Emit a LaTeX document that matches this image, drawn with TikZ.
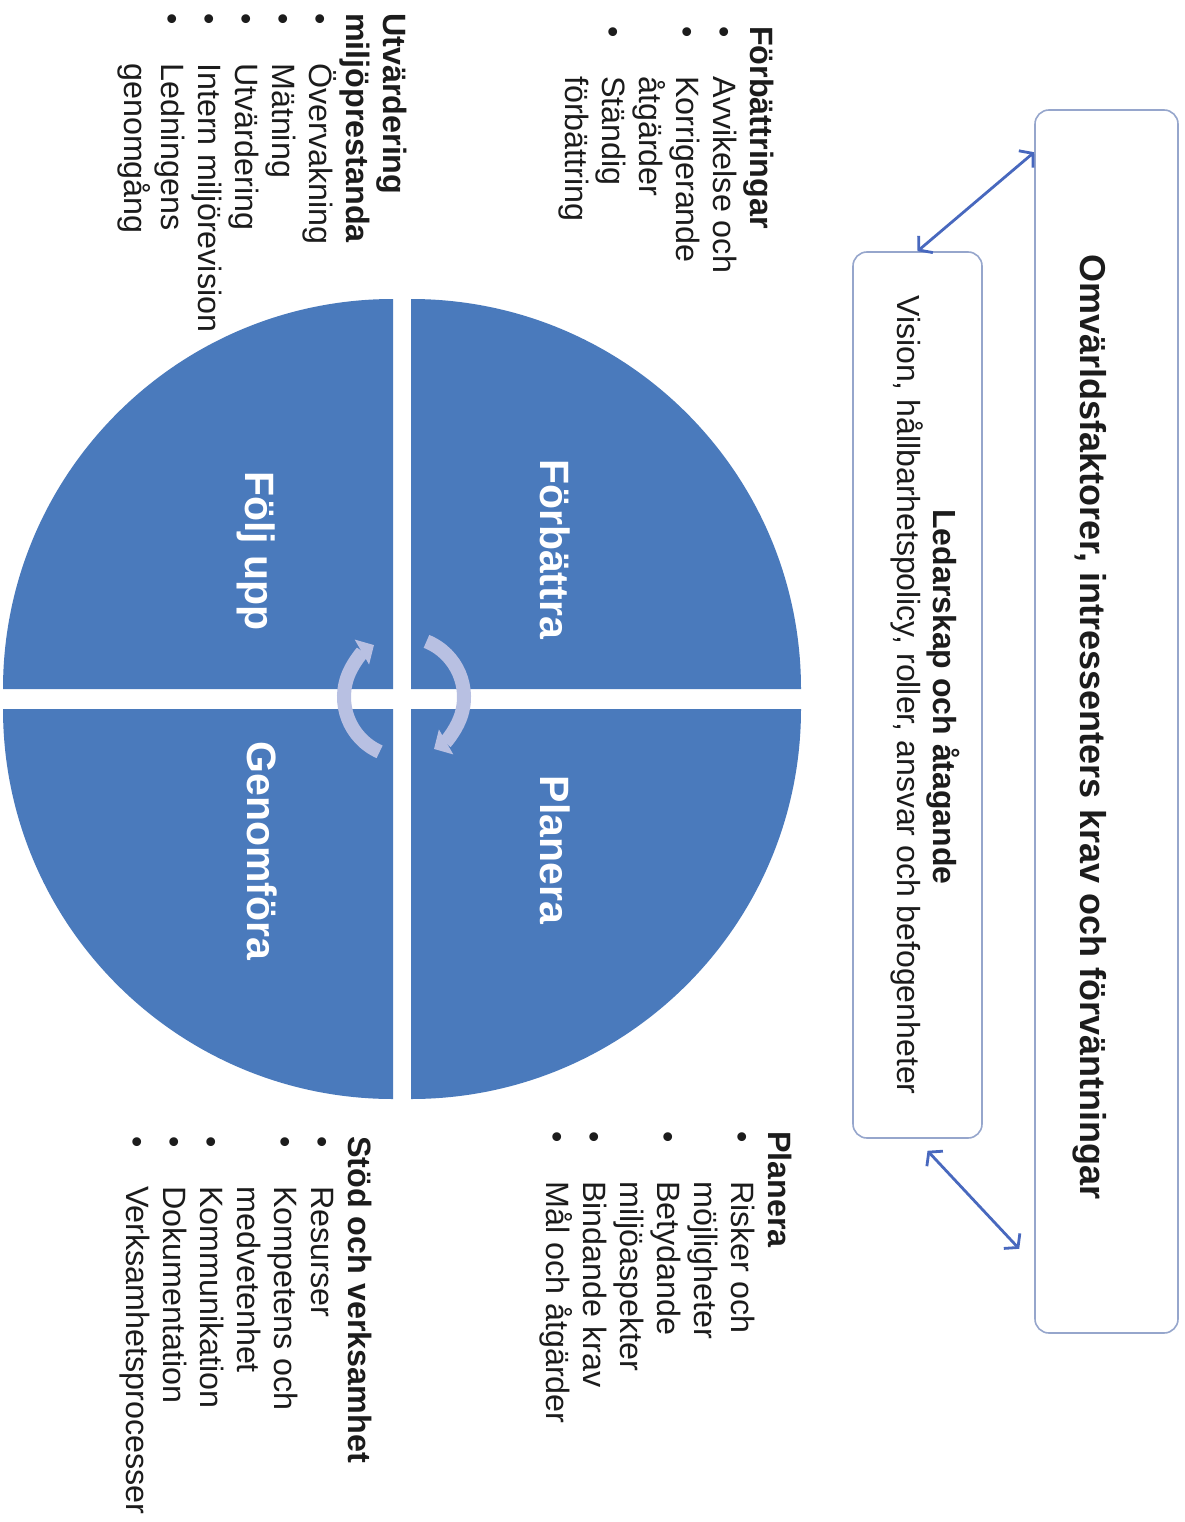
\documentclass[tikz,border=0pt]{standalone}
\usepackage{fontspec}
\setmainfont{Liberation Sans}
\usetikzlibrary{arrows.meta}

\definecolor{quadblue}{RGB}{74,122,188}
\definecolor{linkblue}{RGB}{72,104,190}
\definecolor{boxline}{RGB}{150,166,204}
\definecolor{cyclegray}{RGB}{184,192,226}
\definecolor{inktext}{RGB}{28,28,28}

\newcommand{\lbul}{\makebox[50pt][l]{\textbullet}}
\newcommand{\lgap}{\hspace*{50pt}}

\tikzset{
  rot/.style={rotate=-90, inner sep=0pt},
  boxframe/.style={draw=boxline, line width=1.6pt, rounded corners=14pt, rotate=-90, inner sep=0pt},
  quadlabel/.style={rot, anchor=base, text=white, font=\fontsize{41}{48}\selectfont\bfseries},
  listtext/.style={rot, anchor=north west, text=inktext, align=left, font=\fontsize{32.3}{37}\selectfont},
  linkarrow/.style={{Straight Barb[length=9pt,width=22pt]}-{Straight Barb[length=9pt,width=22pt]}, line width=2.8pt, linkblue},
  cyclearrow/.style={-{Triangle[length=14pt,width=28pt]}, line width=14pt, cyclegray}
}

\begin{document}
\begin{tikzpicture}[x=1pt, y=-1pt]
  \useasboundingbox (0,0) rectangle (1184,1522);
  \fill[white] (0,0) rectangle (1184,1522);

  % outer and inner frames
  \node[boxframe, minimum width=1223pt, minimum height=143pt] (omv) at (1106.5,721.5) {};
  \node[boxframe, minimum width=886pt, minimum height=129pt] (led) at (917.5,695) {};
  \node[rot, anchor=base, text=inktext, font=\fontsize{36}{40}\selectfont\bfseries] (omvtext) at (1080,727)
    {Omvärldsfaktorer, intressenters krav och förväntningar};
  \node[rot, anchor=base, text=inktext, font=\fontsize{32}{36}\selectfont\bfseries] (ledtext) at (933,697)
    {Ledarskap och åtagande};
  \node[rot, anchor=base, text=inktext, font=\fontsize{32}{36}\selectfont] (vistext) at (897,695)
    {Vision, hållbarhetspolicy, roller, ansvar och befogenheter};

  \draw[linkarrow] (led.west) -- ([yshift=-43pt]omv.south west);
  \draw[linkarrow] ([shift={(10pt,-12pt)}]led.east) -- ([shift={(-15pt,85pt)}]omv.south east);

  % the four quarters
  \foreach \cx/\cy/\sa/\ea in {411/689/0/-90, 411/709/0/90, 393/709/90/180, 393/689/180/270}
    \fill[quadblue] (\cx,\cy) -- ++(\sa:390) arc[start angle=\sa, end angle=\ea, radius=390] -- cycle;

  \node[quadlabel] (forb) at (540,549) {Förbättra};
  \node[quadlabel] (plan) at (540,850) {Planera};
  \node[quadlabel] (folj) at (245,551) {Följ upp};
  \node[quadlabel] (genf) at (247,851) {Genomföra};

  % turning arrows in the middle
  \coordinate (cyc) at (404,697);
  \draw[cyclearrow] ([shift={(-68:60)}]cyc) arc[start angle=-68, end angle=60, radius=60];
  \draw[cyclearrow] ([shift={(114:60)}]cyc) arc[start angle=114, end angle=240, radius=60];

  % lists
  \node[listtext] (forblist) at (774,26) {\textbf{Förbättringar}\\
    \lbul Avvikelse och\\ \lbul Korrigerande\\ \lgap åtgärder\\ \lbul Ständig\\ \lgap förbättring};
  \node[listtext] (utvlist) at (407,13) {\textbf{Utvärdering}\\ \textbf{miljöprestanda}\\
    \lbul Övervakning\\ \lbul Mätning\\ \lbul Utvärdering\\ \lbul Intern miljörevision\\
    \lbul Ledningens\\ \lgap genomgång};
  \node[listtext] (planlist) at (792,1131) {\textbf{Planera}\\
    \lbul Risker och\\ \lgap möjligheter\\ \lbul Betydande\\ \lgap miljöaspekter\\
    \lbul Bindande krav\\ \lbul Mål och åtgärder};
  \node[listtext] (stodlist) at (372,1136) {\textbf{Stöd och verksamhet}\\
    \lbul Resurser\\ \lbul Kompetens och\\ \lgap medvetenhet\\ \lbul Kommunikation\\
    \lbul Dokumentation\\ \lbul Verksamhetsprocesser};
\end{tikzpicture}
\end{document}
